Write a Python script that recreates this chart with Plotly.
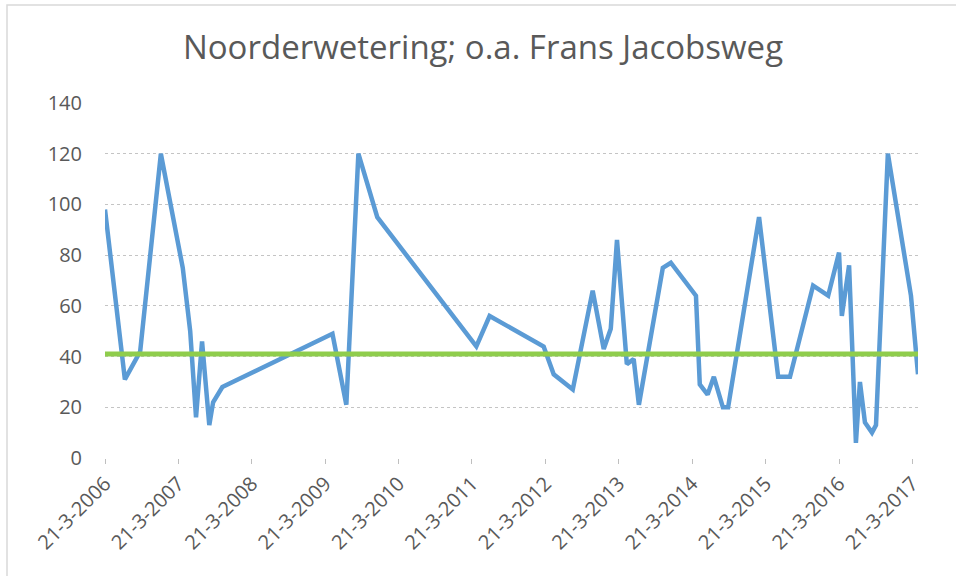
import plotly.graph_objects as go

dates = [
    "2006-03-21", "2006-06-28", "2006-09-12", "2006-12-24", "2007-04-12",
    "2007-05-19", "2007-06-17", "2007-07-17", "2007-08-22", "2007-09-10",
    "2007-10-26", "2009-04-26", "2009-07-04", "2009-09-02", "2009-12-05",
    "2011-04-12", "2011-06-17", "2012-03-12", "2012-05-01", "2012-08-04",
    "2012-11-11", "2013-01-05", "2013-02-09", "2013-03-12", "2013-04-30",
    "2013-06-03", "2013-06-29", "2013-10-26", "2013-12-05", "2014-04-09",
    "2014-04-28", "2014-06-06", "2014-07-07", "2014-08-21", "2014-09-16",
    "2015-02-17", "2015-05-23", "2015-07-21", "2015-11-13", "2016-01-27",
    "2016-03-21", "2016-04-04", "2016-05-10", "2016-06-13", "2016-07-03",
    "2016-07-28", "2016-09-01", "2016-09-21", "2016-11-19", "2017-03-14",
    "2017-04-18",
]
values = [
    98, 31, 42, 120, 75,
    50, 16, 46, 13, 22,
    28, 49, 21, 120, 95,
    44, 56, 44, 33, 27,
    66, 43, 51, 86, 37,
    39, 21, 75, 77, 64,
    29, 25, 32, 20, 20,
    95, 32, 32, 68, 64,
    81, 56, 76, 6, 30,
    14, 10, 13, 120, 64,
    33,
]
norm_value = 41

tick_dates = ["%d-03-21" % y for y in range(2006, 2018)]
tick_labels = ["21-3-%d" % y for y in range(2006, 2018)]
y_ticks = [0, 20, 40, 60, 80, 100, 120, 140]

title_text = "Noorderwetering; o.a. Frans Jacobsweg"

fig = go.Figure()
fig.add_trace(go.Scatter(
    x=dates, y=values, mode="lines",
    line=dict(color="#5B9BD5", width=4.5),
    showlegend=False, hoverinfo="x+y",
))
fig.add_trace(go.Scatter(
    x=[dates[0], dates[-1]], y=[norm_value, norm_value], mode="lines",
    line=dict(color="#8FCD4C", width=5),
    showlegend=False,
))

grey = "#595959"
L, T, PW, PH = 105, 103, 813, 355
fig.update_layout(
    width=956, height=576,
    margin=dict(l=L, r=956 - L - PW, t=T, b=576 - T - PH),
    paper_bgcolor="white", plot_bgcolor="white",
    font=dict(family="Open Sans", color=grey),
    title=dict(text=title_text, x=483 / 956, xref="container", xanchor="center",
               y=1 - 47 / 576, yanchor="middle",
               font=dict(size=33, color=grey, family="Open Sans")),
    shapes=[dict(type="rect", xref="paper", yref="paper",
                 x0=(7 - L) / PW, x1=(965 - L) / PW,
                 y0=(T + PH - 585) / PH, y1=(T + PH - 5) / PH,
                 line=dict(color="#d9d9d9", width=1.5), layer="below")],
)
fig.update_xaxes(
    type="date", range=[dates[0], dates[-1]],
    tickmode="array", tickvals=tick_dates, ticktext=tick_labels,
    tickangle=-45, tickfont=dict(size=20, color=grey),
    ticks="outside", ticklen=5, tickcolor="#bfbfbf",
    showline=False, showgrid=False, zeroline=False,
)
fig.update_yaxes(
    range=[0, 140], tickmode="array", tickvals=y_ticks,
    tickfont=dict(size=20, color=grey),
    showgrid=True, gridcolor="#c4c4c4", gridwidth=1, griddash="dot",
    zeroline=False, showline=False, ticks="", ticklabelstandoff=22,
)

fig.write_html("out.html", config={"displayModeBar": False},
               post_script="document.body.style.margin='0';")
